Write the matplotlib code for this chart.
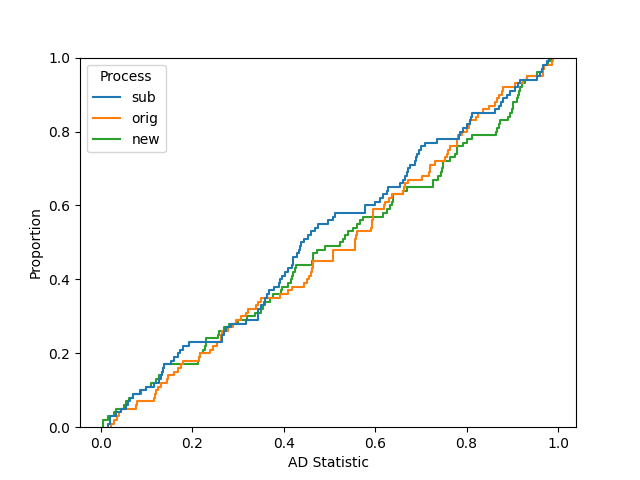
import matplotlib
matplotlib.use("Agg")
import matplotlib.pyplot as plt
import pandas as pd
import seaborn as sns

# AD statistic samples per process
sub = [
    0.015, 0.02, 0.02, 0.033, 0.045, 0.055, 0.06, 0.065, 0.07, 0.085,
    0.098, 0.116, 0.127, 0.132, 0.135, 0.137, 0.138, 0.153, 0.16, 0.168,
    0.174, 0.179, 0.192, 0.266, 0.266, 0.27, 0.273, 0.284, 0.317, 0.343,
    0.344, 0.345, 0.35, 0.356, 0.36, 0.363, 0.367, 0.378, 0.389, 0.393,
    0.397, 0.404, 0.41, 0.419, 0.42, 0.421, 0.43, 0.433, 0.435, 0.437,
    0.445, 0.454, 0.459, 0.468, 0.476, 0.498, 0.509, 0.513, 0.579, 0.579,
    0.6, 0.61, 0.618, 0.627, 0.629, 0.655, 0.66, 0.665, 0.67, 0.673,
    0.677, 0.688, 0.69, 0.692, 0.695, 0.70, 0.71, 0.735, 0.784, 0.786,
    0.793, 0.8, 0.808, 0.81, 0.812, 0.862, 0.87, 0.875, 0.88, 0.889,
    0.895, 0.906, 0.912, 0.917, 0.954, 0.961, 0.964, 0.967, 0.976, 0.98,
]
orig = [
    0.022, 0.028, 0.035, 0.04, 0.045, 0.078, 0.08, 0.116, 0.118, 0.12,
    0.125, 0.131, 0.145, 0.148, 0.16, 0.168, 0.175, 0.179, 0.215, 0.218,
    0.24, 0.245, 0.255, 0.262, 0.264, 0.266, 0.279, 0.29, 0.295, 0.306,
    0.317, 0.323, 0.34, 0.345, 0.35, 0.393, 0.41, 0.419, 0.445, 0.45,
    0.455, 0.459, 0.462, 0.464, 0.465, 0.508, 0.509, 0.509, 0.555, 0.556,
    0.557, 0.559, 0.561, 0.592, 0.594, 0.594, 0.595, 0.596, 0.596, 0.62,
    0.622, 0.63, 0.638, 0.66, 0.663, 0.666, 0.672, 0.703, 0.718, 0.719,
    0.72, 0.731, 0.753, 0.757, 0.76, 0.764, 0.778, 0.78, 0.782, 0.79,
    0.8, 0.805, 0.808, 0.82, 0.825, 0.835, 0.85, 0.862, 0.866, 0.87,
    0.878, 0.88, 0.906, 0.923, 0.932, 0.967, 0.968, 0.97, 0.987, 0.99,
]
new = [
    0.004, 0.004, 0.015, 0.03, 0.033, 0.05, 0.055, 0.062, 0.07, 0.087,
    0.098, 0.11, 0.12, 0.127, 0.133, 0.136, 0.138, 0.212, 0.215, 0.218,
    0.224, 0.228, 0.23, 0.23, 0.256, 0.258, 0.269, 0.28, 0.3, 0.32,
    0.338, 0.35, 0.355, 0.36, 0.37, 0.376, 0.395, 0.397, 0.41, 0.415,
    0.418, 0.42, 0.424, 0.426, 0.463, 0.464, 0.465, 0.474, 0.49, 0.524,
    0.53, 0.535, 0.54, 0.552, 0.561, 0.568, 0.574, 0.618, 0.627, 0.632,
    0.638, 0.639, 0.64, 0.66, 0.67, 0.726, 0.727, 0.738, 0.744, 0.747,
    0.748, 0.749, 0.764, 0.775, 0.778, 0.78, 0.793, 0.8, 0.812, 0.865,
    0.867, 0.87, 0.873, 0.89, 0.895, 0.9, 0.901, 0.902, 0.911, 0.913,
    0.915, 0.917, 0.921, 0.927, 0.932, 0.954, 0.965, 0.97, 0.978, 0.985,
]
processes = ["sub", "orig", "new"]

df = pd.concat(
    [
        pd.DataFrame({"AD Statistic": vals, "Process": name})
        for name, vals in zip(processes, [sub, orig, new])
    ],
    ignore_index=True,
)

fig, ax = plt.subplots(figsize=(6.4, 4.8), dpi=100)
sns.ecdfplot(data=df, x="AD Statistic", hue="Process", hue_order=processes, ax=ax)
sns.move_legend(ax, "upper left")

fig.savefig("out.png")
